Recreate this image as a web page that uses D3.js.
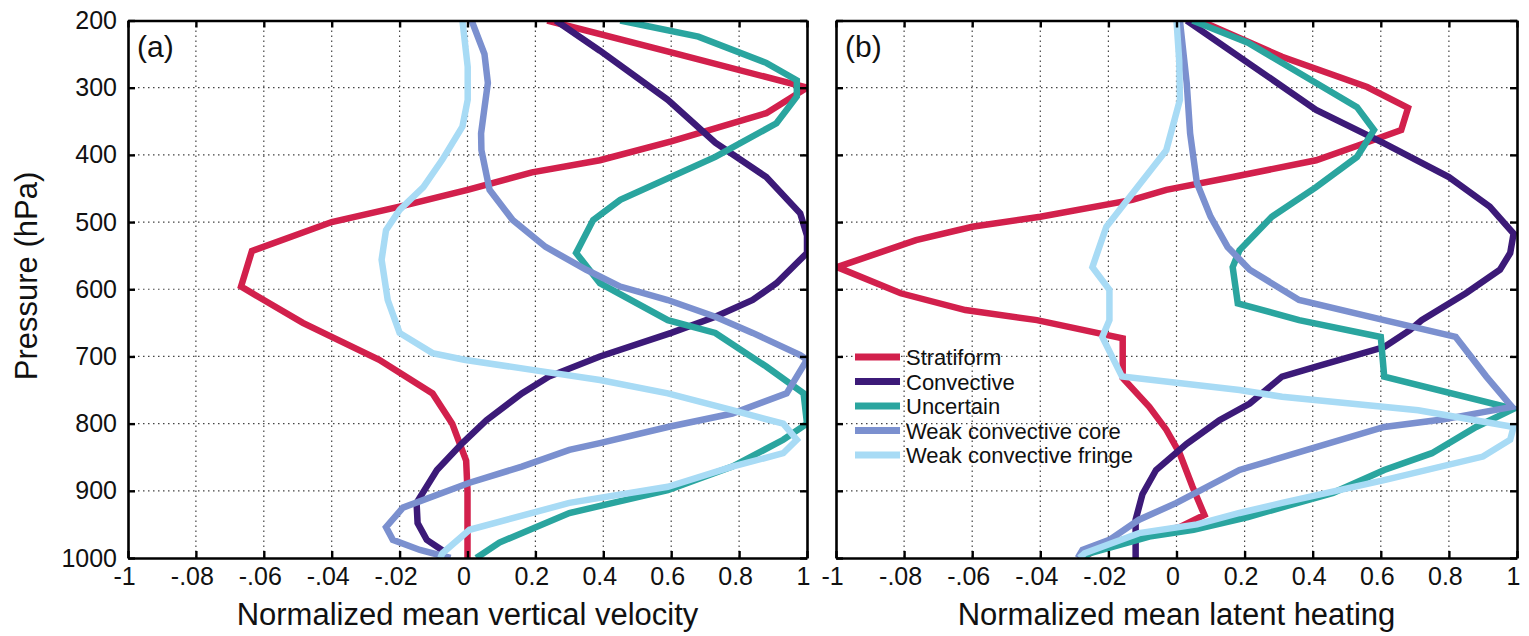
<!DOCTYPE html>
<html>
<head>
<meta charset="utf-8">
<script src="https://cdn.jsdelivr.net/npm/d3@7"></script>
<style>
body { margin: 0; background: #fff; }
text { font-family: "Liberation Sans", Arial, Helvetica, sans-serif; fill: #111; }
</style>
</head>
<body>
<div id="chart"></div>
<script>
// pressure levels (hPa) and x tick values / labels as printed
var pressureTicks = [200, 300, 400, 500, 600, 700, 800, 900, 1000];
var xTicks = [-0.1, -0.08, -0.06, -0.04, -0.02, 0, 0.2, 0.4, 0.6, 0.8, 1];
var xTickLabels = ["-1", "-.08", "-.06", "-.04", "-.02", "0", "0.2", "0.4", "0.6", "0.8", "1"];

var seriesNames = ["Stratiform", "Convective", "Uncertain", "Weak convective core", "Weak convective fringe"];
var seriesColors = ["#d2204c", "#3c1a78", "#2aa59f", "#7b90cf", "#a8dbf5"];

// (a) normalized mean vertical velocity, [pressure, value]
var stratiformA = [[200,0.235],[250,0.62],[300,1.0],[338,0.88],[380,0.6],[408,0.39],[426,0.19],[452,0.0],[477,-0.02],[500,-0.04],[543,-0.0635],[596,-0.0667],[616,-0.06],[650,-0.0485],[671,-0.04],[705,-0.026],[755,-0.0103],[800,-0.0045],[855,-0.0004],[900,0.0],[950,0.0],[1000,0.0]];
var convectiveA = [[200,0.26],[245,0.39],[318,0.59],[382,0.73],[433,0.88],[487,0.98],[520,1.0],[546,1.0],[591,0.91],[616,0.84],[641,0.73],[665,0.6],[700,0.39],[730,0.24],[755,0.16],[795,0.056],[829,-0.0015],[869,-0.009],[918,-0.015],[948,-0.0147],[973,-0.012],[990,-0.007]];
var uncertainA = [[200,0.45],[224,0.68],[263,0.88],[289,0.97],[313,0.97],[353,0.91],[403,0.73],[467,0.45],[497,0.37],[546,0.32],[591,0.39],[646,0.59],[665,0.73],[715,0.88],[755,0.99],[800,1.0],[824,0.93],[864,0.78],[899,0.59],[933,0.3],[977,0.094],[1000,0.026]];
var coreA = [[200,0.012],[250,0.05],[293,0.06],[330,0.05],[368,0.04],[393,0.041],[452,0.065],[497,0.133],[537,0.23],[571,0.35],[596,0.45],[616,0.59],[641,0.73],[665,0.84],[698,0.98],[705,1.0],[755,0.94],[785,0.78],[805,0.59],[829,0.39],[839,0.3],[864,0.16],[888,0.006],[925,-0.019],[954,-0.024],[973,-0.022],[988,-0.014],[1000,-0.005]];
var fringeA = [[200,-0.0015],[269,0.0006],[318,0.0006],[358,-0.0015],[407,-0.0074],[448,-0.013],[482,-0.02],[512,-0.024],[556,-0.0253],[616,-0.0235],[665,-0.02],[695,-0.0103],[705,-0.001],[720,0.19],[735,0.39],[755,0.59],[780,0.78],[800,0.93],[824,0.97],[844,0.93],[864,0.78],[894,0.59],[918,0.3],[958,0.006],[993,-0.0074],[1000,-0.008]];

// (b) normalized mean latent heating, [pressure, value]
var stratiformB = [[200,0.068],[254,0.31],[299,0.56],[330,0.68],[363,0.66],[383,0.55],[408,0.41],[433,0.165],[452,-0.003],[467,-0.013],[492,-0.04],[507,-0.06],[527,-0.0765],[567,-0.0997],[606,-0.081],[631,-0.062],[646,-0.041],[673,-0.0158],[732,-0.0158],[775,-0.008],[809,-0.003],[844,0.009],[894,0.047],[936,0.082],[954,0.009],[978,-0.0206],[1000,-0.0276]];
var convectiveB = [[200,0.03],[263,0.21],[333,0.41],[383,0.61],[433,0.8],[477,0.92],[517,0.99],[546,0.98],[571,0.95],[606,0.85],[646,0.72],[661,0.685],[686,0.61],[715,0.41],[730,0.31],[770,0.215],[795,0.126],[830,0.03],[869,-0.006],[905,-0.01],[943,-0.012],[1000,-0.012]];
var uncertainB = [[200,0.047],[233,0.21],[293,0.41],[329,0.53],[363,0.58],[403,0.53],[448,0.41],[492,0.28],[542,0.185],[567,0.165],[621,0.18],[646,0.36],[671,0.6],[730,0.61],[778,0.99],[805,0.88],[844,0.75],[869,0.61],[903,0.46],[939,0.21],[958,0.05],[968,-0.008],[993,-0.0256],[1000,-0.027]];
var coreB = [[200,0.01],[293,0.03],[368,0.04],[442,0.06],[492,0.1],[537,0.15],[571,0.215],[616,0.36],[646,0.61],[671,0.82],[730,0.91],[775,0.985],[794,0.78],[805,0.61],[835,0.41],[869,0.185],[918,0.0],[943,-0.011],[973,-0.0197],[988,-0.0276],[1000,-0.029]];
var fringeB = [[200,0.0],[260,0.008],[318,0.01],[393,-0.003],[458,-0.013],[507,-0.0206],[567,-0.0247],[601,-0.0197],[646,-0.0197],[671,-0.0218],[730,-0.016],[750,0.185],[760,0.31],[780,0.71],[805,0.99],[824,0.98],[849,0.9],[884,0.61],[918,0.31],[933,0.185],[950,0.06],[963,-0.011],[993,-0.027],[1000,-0.0285]];

var width = 1529, height = 636;
var plotTop = 20.5, plotBottom = 558;

var svg = d3.select("#chart").append("svg")
    .attr("width", width)
    .attr("height", height);

svg.append("rect").attr("width", width).attr("height", height).attr("fill", "#fff");

var y = d3.scaleLinear().domain([200, 1000]).range([plotTop, plotBottom]);

var panels = [
    {id: "a", left: 128, right: 807, label: "(a)", title: "Normalized mean vertical velocity",
     series: [stratiformA, convectiveA, uncertainA, coreA, fringeA], yLabels: true, legend: false},
    {id: "b", left: 836, right: 1517, label: "(b)", title: "Normalized mean latent heating",
     series: [stratiformB, convectiveB, uncertainB, coreB, fringeB], yLabels: false, legend: true}
];

panels.forEach(function(p) {
    // negative side is stretched: -0.1..0 takes the left half
    var x = d3.scaleLinear()
        .domain([-0.1, 0, 1])
        .range([p.left, (p.left + p.right) / 2, p.right]);

    var g = svg.append("g").attr("class", "panel-" + p.id);

    // dotted grid
    var grid = g.append("g").attr("class", "grid")
        .attr("stroke", "#444")
        .attr("stroke-width", 1.2)
        .attr("stroke-dasharray", "1.5,3.5");
    grid.selectAll("line.vx")
        .data(xTicks.slice(1, -1))
        .enter().append("line")
            .attr("class", "vx")
            .attr("x1", function(d) { return x(d); })
            .attr("x2", function(d) { return x(d); })
            .attr("y1", plotTop).attr("y2", plotBottom);
    grid.selectAll("line.hy")
        .data(pressureTicks.slice(1, -1))
        .enter().append("line")
            .attr("class", "hy")
            .attr("x1", p.left).attr("x2", p.right)
            .attr("y1", function(d) { return y(d); })
            .attr("y2", function(d) { return y(d); });

    // lines, clipped to the frame
    svg.append("clipPath").attr("id", "clip-" + p.id)
        .append("rect")
            .attr("x", p.left).attr("y", plotTop)
            .attr("width", p.right - p.left).attr("height", plotBottom - plotTop);

    var line = d3.line()
        .x(function(d) { return x(d[1]); })
        .y(function(d) { return y(d[0]); })
        .curve(d3.curveLinear);

    g.append("g").attr("clip-path", "url(#clip-" + p.id + ")")
        .selectAll("path")
        .data(p.series)
        .enter().append("path")
            .attr("fill", "none")
            .attr("stroke", function(d, i) { return seriesColors[i]; })
            .attr("stroke-width", 6.5)
            .attr("stroke-linejoin", "miter")
            .attr("stroke-miterlimit", 3)
            .attr("d", line);

    // axes (ticks pointing inward)
    var bottomAxis = d3.axisBottom(x)
        .tickValues(xTicks)
        .tickFormat(function(d, i) { return xTickLabels[i]; })
        .tickSizeInner(-7).tickSizeOuter(0).tickPadding(9);
    var topAxis = d3.axisTop(x).tickValues(xTicks).tickFormat("").tickSizeInner(-7).tickSizeOuter(0);
    var leftAxis = d3.axisLeft(y).tickValues(pressureTicks)
        .tickFormat(p.yLabels ? d3.format("d") : "")
        .tickSizeInner(-7).tickSizeOuter(0).tickPadding(11);
    var rightAxis = d3.axisRight(y).tickValues(pressureTicks).tickFormat("").tickSizeInner(-7).tickSizeOuter(0);

    var axes = [
        g.append("g").attr("transform", "translate(0," + plotBottom + ")").call(bottomAxis),
        g.append("g").attr("transform", "translate(0," + plotTop + ")").call(topAxis),
        g.append("g").attr("transform", "translate(" + p.left + ",0)").call(leftAxis),
        g.append("g").attr("transform", "translate(" + p.right + ",0)").call(rightAxis)
    ];
    axes.forEach(function(a) {
        a.attr("font-family", null).attr("font-size", null);
        a.select(".domain").attr("stroke", "#000").attr("stroke-width", 2.6);
        a.selectAll(".tick line").attr("stroke", "#000").attr("stroke-width", 2.4);
        a.selectAll(".tick text").style("font-size", "25px").attr("fill", "#111");
    });
    axes[0].selectAll(".tick text").attr("dx", -4);

    // panel label
    g.append("text")
        .attr("x", p.left + 9).attr("y", 57)
        .style("font-size", "30px")
        .text(p.label);

    // x title
    g.append("text")
        .attr("x", (p.left + p.right) / 2).attr("y", 625)
        .attr("text-anchor", "middle")
        .style("font-size", "31px")
        .text(p.title);

    if (p.legend) {
        var lg = g.append("g").attr("class", "legend");
        var rows = lg.selectAll("g")
            .data(seriesNames)
            .enter().append("g")
                .attr("transform", function(d, i) { return "translate(" + (p.left + 19) + "," + (357 + i * 24.5) + ")"; });
        rows.append("line")
            .attr("x1", 0).attr("x2", 45)
            .attr("stroke", function(d, i) { return seriesColors[i]; })
            .attr("stroke-width", 7);
        rows.append("text")
            .attr("x", 51).attr("y", 8)
            .style("font-size", "22px")
            .text(function(d) { return d; });
    }
});

// y title
svg.append("text")
    .attr("transform", "translate(37," + 276 + ") rotate(-90)")
    .attr("text-anchor", "middle")
    .style("font-size", "31px")
    .text("Pressure (hPa)");
</script>
</body>
</html>
